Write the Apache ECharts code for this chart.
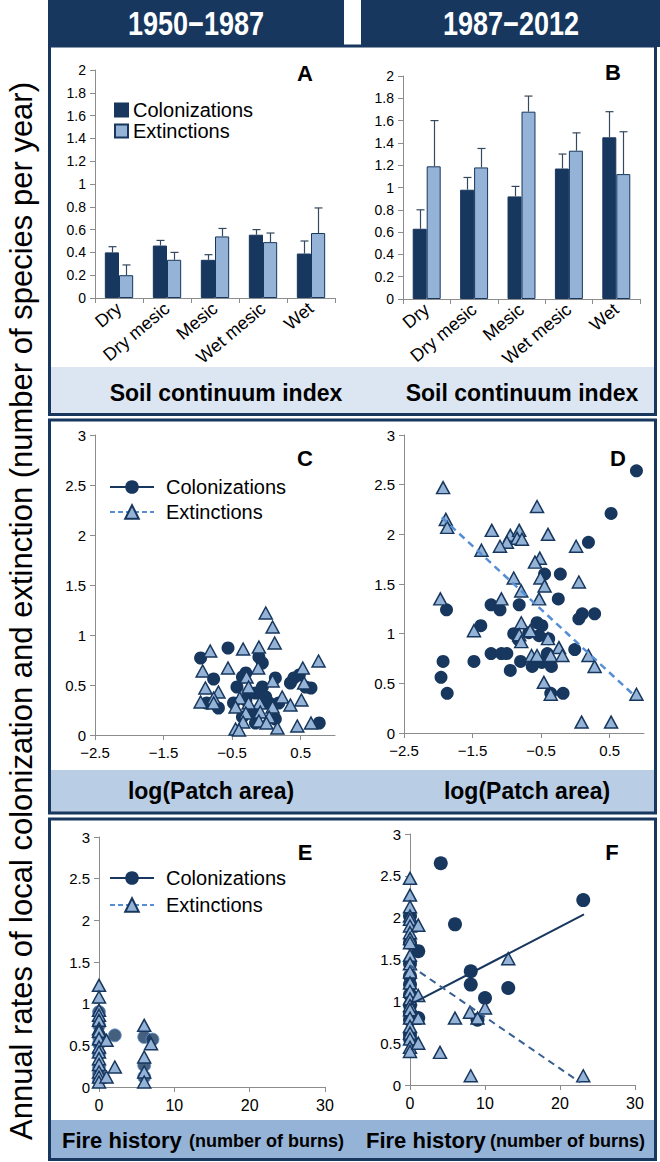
<!DOCTYPE html>
<html><head><meta charset="utf-8">
<script src="https://cdn.jsdelivr.net/npm/echarts@6/dist/echarts.min.js"></script>
<style>html,body{margin:0;padding:0;background:#fff}#c{width:660px;height:1162px}</style>
</head><body><div id="c"></div>
<script>
// ---------- DATA ----------
const periodLabels = ['1950\u22121987', '1987\u22122012'];
const soilCategories = ['Dry', 'Dry mesic', 'Mesic', 'Wet mesic', 'Wet'];
// Panel A (1950-1987)
const colA = [0.40, 0.46, 0.335, 0.555, 0.39];
const colAErr = [0.05, 0.045, 0.045, 0.045, 0.11];
const extA = [0.20, 0.335, 0.54, 0.49, 0.57];
const extAErr = [0.09, 0.065, 0.07, 0.08, 0.22];
// Panel B (1987-2012)
const colB = [0.63, 0.98, 0.92, 1.17, 1.45];
const colBErr = [0.17, 0.11, 0.09, 0.13, 0.23];
const extB = [1.19, 1.18, 1.68, 1.33, 1.12];
const extBErr = [0.41, 0.17, 0.14, 0.16, 0.38];
// Panel C: [log(patch area), rate]
const colC = [[-0.56,0.87],[-0.96,0.77],[-0.77,0.56],[-0.30,0.62],[-0.11,0.78],[-0.06,0.72],[0.13,0.57],[0.35,0.52],[0.48,0.60],[0.65,0.47],[0.57,0.48],[-0.43,0.48],[-0.16,0.42],[-0.06,0.48],[-0.70,0.27],[-0.87,0.32],[-0.48,0.32],[0.04,0.32],[0.18,0.32],[-0.21,0.22],[-0.35,0.18],[0.13,0.16],[0.77,0.12],[-0.16,0.12],[-0.35,0.58],[-0.26,0.42],[0.40,0.57],[-0.30,0.35],[-0.01,0.38]];
const extC = [[-0.01,1.22],[0.09,1.08],[0.12,0.92],[-0.11,0.88],[-0.34,0.86],[-0.82,0.84],[0.76,0.74],[0.53,0.67],[-0.12,0.67],[-0.56,0.67],[-0.93,0.64],[-0.29,0.58],[0.09,0.54],[0.55,0.52],[-0.26,0.48],[-0.89,0.47],[-0.70,0.43],[0.23,0.38],[-0.39,0.37],[-0.77,0.37],[-0.96,0.33],[0.51,0.35],[0.35,0.30],[-0.10,0.32],[-0.26,0.32],[0.09,0.28],[-0.45,0.28],[-0.30,0.22],[-0.09,0.23],[0.04,0.18],[-0.11,0.14],[0.00,0.12],[-0.34,0.13],[0.16,0.07],[0.45,0.09],[0.65,0.12],[-0.45,0.06],[-0.40,0.05],[-0.77,0.32]];
// Panel D
const colD = [[0.89,2.64],[0.52,2.21],[0.19,1.92],[-0.45,1.60],[-0.22,1.60],[-0.25,1.35],[-1.88,1.24],[-1.23,1.29],[-1.10,1.24],[-0.82,1.29],[0.05,1.15],[0.10,1.20],[0.28,1.20],[-1.38,1.08],[-0.56,1.11],[-0.49,1.08],[-0.53,0.98],[-0.68,1.01],[-0.90,1.00],[-0.39,0.95],[-0.83,0.94],[-1.23,0.80],[-1.08,0.80],[-1.00,0.80],[-0.01,0.84],[-0.41,0.80],[-1.93,0.72],[-1.48,0.72],[-0.80,0.72],[-0.95,0.63],[-0.63,0.67],[-0.49,0.71],[-0.35,0.67],[-1.96,0.56],[-1.87,0.40],[-0.18,0.40],[-0.36,0.40]];
const extD = [[-1.93,2.47],[-1.89,2.15],[-1.87,2.07],[-1.97,1.35],[-0.56,2.28],[-1.22,2.04],[-0.95,1.99],[-0.82,2.04],[-0.85,1.96],[-0.78,1.95],[-1.00,1.92],[-1.10,1.88],[-0.40,2.00],[0.01,1.88],[-1.37,1.84],[-0.52,1.76],[-0.59,1.72],[-0.51,1.56],[-0.45,1.48],[-0.90,1.56],[0.05,1.52],[-0.79,1.43],[-0.53,1.35],[-1.08,1.35],[-0.79,1.11],[-0.66,1.03],[-1.48,1.03],[-0.82,0.99],[-0.79,0.92],[-0.40,0.95],[-0.24,0.86],[-0.64,0.78],[-0.56,0.78],[-0.36,0.78],[-0.19,0.78],[0.19,0.78],[0.28,0.67],[-0.46,0.51],[-0.36,0.39],[0.89,0.39],[0.09,0.11],[0.52,0.11]];
const extDFit = [[-1.95,2.17],[0.87,0.37]];
// Panel E: [number of burns, rate]
const colE = [[0,0.90],[0,0.74],[0,0.60],[0,0.52],[0,0.40],[0,0.24],[0,0.16],[0,0.08],[2.1,0.62],[6,0.60],[7.1,0.57],[6,0.26],[6,0.12]];
const extE = [[0,1.22],[0,1.08],[0,0.92],[0,0.86],[0,0.80],[0,0.70],[0,0.67],[0,0.58],[0,0.48],[0,0.42],[0,0.34],[0,0.27],[0,0.18],[0,0.12],[0,0.06],[1.0,0.56],[2.1,0.24],[1.0,0.12],[6,0.74],[6.9,0.52],[6,0.36],[6,0.18],[6,0.06]];
// Panel F
const colF = [[4.1,2.65],[6,1.92],[23.1,2.21],[1.1,1.60],[8.1,1.36],[8.1,1.20],[13.1,1.16],[10,1.04],[9,0.78],[1.1,0.80],[0,2.02],[0,1.70],[0,1.45],[0,1.30],[0,1.20],[0,1.08],[0,0.95],[0,0.85],[0,0.78],[0,0.60],[0,0.55]];
const extF = [[0,2.47],[0,2.27],[0,2.13],[0,2.02],[0,1.98],[0,1.90],[0,1.82],[0,1.75],[0,1.70],[0,1.55],[0,1.45],[0,1.35],[0,1.22],[0,1.12],[0,1.03],[0,0.95],[0,0.90],[0,0.80],[0,0.70],[0,0.62],[0,0.55],[0,0.45],[0,0.40],[1.1,1.91],[1.1,1.07],[1.1,0.80],[1.1,0.50],[4,0.39],[6,0.80],[8,0.87],[9,0.80],[10,0.92],[13.1,1.51],[8.1,0.11],[23.1,0.11]];
const colFFit = [[0,0.96],[23.2,2.04]];
const extFFit = [[0,1.43],[22.7,0.03]];
// Tick labels
const patchTicks = [-2.5, -1.5, -0.5, 0.5];
const burnTicks = [0, 10, 20, 30];
const panelLetters = ['A','B','C','D','E','F'];
const bandTitles = ['Soil continuum index', 'log(Patch area)', 'Fire history', '(number of burns)'];
const yTitle = 'Annual rates of local colonization and extinction (number of species per year)';
const seriesNames = ['Colonizations', 'Extinctions'];

// ---------- STYLE ----------
const FF = '"Liberation Sans", Arial, sans-serif';
const navy = '#17375e';
const light = '#95b3d7';
const grey = '#8c8c8c';
const catGap = 0.41;

function yAx(gi, max, interval, fs) {
  return { type:'value', gridIndex:gi, min:0, max:max, interval:interval,
    axisLine:{show:true, onZero:false, lineStyle:{color:grey}},
    axisTick:{show:true, length:5, lineStyle:{color:grey}},
    splitLine:{show:false},
    axisLabel:{color:'#000', fontSize:fs, fontFamily:FF, margin:9} };
}
function catAx(gi) {
  return { type:'category', gridIndex:gi, data:soilCategories,
    axisLine:{onZero:false, lineStyle:{color:grey}},
    axisTick:{show:true, length:5, alignWithLabel:false, lineStyle:{color:grey}},
    axisLabel:{rotate:40, interval:0, fontSize:18, color:'#000', fontFamily:FF, margin:8} };
}
const fmtMinus = v => (v < 0 ? '\u2212' : '') + Math.abs(v);
function xValAx(gi, min, max, ticks) {
  return { type:'value', gridIndex:gi, min:min, max:max, interval:(ticks[1]-ticks[0]),
    axisLine:{lineStyle:{color:grey}, onZero:false},
    axisTick:{show:true, length:5, lineStyle:{color:grey}, customValues:ticks},
    splitLine:{show:false},
    axisLabel:{color:'#000', fontSize:15, fontFamily:FF, margin:10, customValues:ticks, formatter:fmtMinus} };
}
function errSeries(ai, vals, errs, side) {
  return { type:'custom', xAxisIndex:ai, yAxisIndex:ai, silent:true, z:5,
    data: vals.map((v,i)=>[i, v, v+errs[i]]),
    renderItem: function(params, api) {
      const i = api.value(0);
      const p0 = api.coord([i, api.value(1)]);
      const p1 = api.coord([i, api.value(2)]);
      const band = api.size([1,0])[0];
      const bw = band*(1-catGap)/2;
      const x = Math.round(p0[0] + side*bw/2) + 0.5;
      const cap = 4;
      const st = {stroke:'#34495e', lineWidth:1.2};
      return {type:'group', children:[
        {type:'line', shape:{x1:x, y1:p0[1], x2:x, y2:p1[1]}, style:st},
        {type:'line', shape:{x1:x-cap, y1:p1[1], x2:x+cap, y2:p1[1]}, style:st}
      ]};
    } };
}
function bar(ai, name, vals, color) {
  return { type:'bar', name:name, xAxisIndex:ai, yAxisIndex:ai, data:vals,
    barGap:'0%', barCategoryGap:(catGap*100)+'%',
    itemStyle:{color:color, borderColor:navy, borderWidth:1} };
}
function circles(ai, name, data, extra) {
  return Object.assign({ type:'scatter', name:name, xAxisIndex:ai, yAxisIndex:ai, data:data,
    symbol:'circle', symbolSize:13, z:3,
    itemStyle:{color:navy, opacity:1} }, extra||{});
}
function triangles(ai, name, data) {
  return { type:'scatter', name:name, xAxisIndex:ai, yAxisIndex:ai, data:data,
    symbol:'triangle', symbolSize:[13,12], z:4,
    itemStyle:{color:light, borderColor:navy, borderWidth:1.5, opacity:1} };
}
function fitLine(ai, name, data, color, type, w) {
  return { type:'line', name:name, xAxisIndex:ai, yAxisIndex:ai, data:data, symbol:'none', z:6,
    silent:true, lineStyle:{color:color, type:type, width:w} };
}
function legendDummy(ai, name, kind) {
  if (kind === 'col') return { type:'line', name:name, xAxisIndex:ai, yAxisIndex:ai, data:[],
    symbol:'circle', lineStyle:{color:navy, width:2}, itemStyle:{color:navy} };
  return { type:'line', name:name, xAxisIndex:ai, yAxisIndex:ai, data:[],
    symbol:'triangle', lineStyle:{color:'#558ed5', width:2, type:[5,3]},
    itemStyle:{color:light, borderColor:navy, borderWidth:1.5} };
}

const grids = [
  {left:95, top:70, width:240, height:228},
  {left:403, top:76, width:237, height:223},
  {left:95, top:435, width:240, height:300},
  {left:404, top:435, width:240, height:298},
  {left:99, top:837, width:226, height:250},
  {left:410, top:834, width:225, height:251}
];

const xAxes = [catAx(0), catAx(1),
  xValAx(2, -2.5, 1, patchTicks), xValAx(3, -2.5, 1, patchTicks),
  xValAx(4, 0, 30, burnTicks), xValAx(5, 0, 30, burnTicks)];
xAxes[4].axisLabel.fontSize = 16; xAxes[5].axisLabel.fontSize = 16;
const yAxes = [yAx(0, 2, 0.2, 14), yAx(1, 2, 0.2, 14), yAx(2, 3, 0.5, 15), yAx(3, 3, 0.5, 15), yAx(4, 3, 0.5, 15), yAx(5, 3, 0.5, 15)];

const C2 = seriesNames[0] + ' ', E2 = seriesNames[1] + ' ';
const C3 = seriesNames[0] + '  ', E3 = seriesNames[1] + '  ';

const series = [
  bar(0, seriesNames[0], colA, navy), bar(0, seriesNames[1], extA, light),
  errSeries(0, colA, colAErr, -1), errSeries(0, extA, extAErr, 1),
  bar(1, 'colB', colB, navy), bar(1, 'extB', extB, light),
  errSeries(1, colB, colBErr, -1), errSeries(1, extB, extBErr, 1),
  legendDummy(2, C2, 'col'), legendDummy(2, E2, 'ext'),
  circles(2, 'colC', colC), triangles(2, 'extC', extC),
  circles(3, 'colD', colD), triangles(3, 'extD', extD),
  fitLine(3, 'extDFit', extDFit, '#558ed5', [7,5], 2.5),
  legendDummy(4, C3, 'col'), legendDummy(4, E3, 'ext'),
  circles(4, 'colE', colE, {itemStyle:{color:navy, borderColor:'#6a9bd1', borderWidth:1}}), triangles(4, 'extE', extE),
  circles(5, 'colF', colF, {symbolSize:14}), triangles(5, 'extF', extF),
  fitLine(5, 'colFFit', colFFit, navy, 'solid', 2),
  fitLine(5, 'extFFit', extFFit, '#376092', [7,5], 2)
];

const legTxt = {fontSize:20, color:'#000', fontFamily:FF};
const legends = [
  {data:[seriesNames[0], seriesNames[1]], orient:'vertical', left:114, top:100, padding:0,
   itemWidth:13, itemHeight:13, itemGap:1, icon:'rect', selectedMode:false, textStyle:legTxt},
  {data:[C2, E2], orient:'vertical', left:109, top:477, padding:0, itemWidth:44, itemHeight:17, itemGap:5,
   selectedMode:false, formatter:n=>n.trim(), textStyle:Object.assign({padding:[0,0,0,7]}, legTxt)},
  {data:[C3, E3], orient:'vertical', left:109, top:868, padding:0, itemWidth:44, itemHeight:17, itemGap:7,
   selectedMode:false, formatter:n=>n.trim(), textStyle:Object.assign({padding:[0,0,0,7]}, legTxt)}
];

// ---------- FRAME / DECORATION ----------
function txt(x, y, text, size, opts) {
  return Object.assign({type:'text', x:x, y:y, silent:true, z:10,
    style:Object.assign({text:text, x:0, y:0, fill:'#000', font:'bold '+size+'px '+FF, align:'center', verticalAlign:'middle'}, (opts&&opts.style)||{})},
    opts ? (({style, ...rest}) => rest)(opts) : {});
}
const graphics = [
  {type:'rect', shape:{x:48, y:0, width:296, height:47}, style:{fill:navy}, z:-5, silent:true},
  {type:'rect', shape:{x:361, y:0, width:299, height:47}, style:{fill:navy}, z:-5, silent:true},
  {type:'rect', shape:{x:51, y:367, width:603, height:47}, style:{fill:'#dce6f2'}, z:-5, silent:true},
  {type:'rect', shape:{x:51, y:770, width:603, height:42}, style:{fill:'#b9cde5'}, z:-5, silent:true},
  {type:'rect', shape:{x:51, y:1120, width:603, height:39}, style:{fill:'#95b3d7'}, z:-5, silent:true},
  {type:'rect', shape:{x:49.5, y:46, width:606, height:368.5}, style:{fill:'none', stroke:navy, lineWidth:3}, z:-4, silent:true},
  {type:'rect', shape:{x:49.5, y:420, width:606, height:393}, style:{fill:'none', stroke:navy, lineWidth:3}, z:-4, silent:true},
  {type:'rect', shape:{x:49.5, y:819, width:606, height:340.5}, style:{fill:'none', stroke:navy, lineWidth:3}, z:-4, silent:true},
  txt(196, 24, periodLabels[0], 33, {scaleX:0.82, style:{fill:'#fff'}}),
  txt(511, 24, periodLabels[1], 33, {scaleX:0.82, style:{fill:'#fff'}}),
  txt(305, 73, panelLetters[0], 22), txt(613, 72, panelLetters[1], 22),
  txt(305, 458, panelLetters[2], 22), txt(618, 458, panelLetters[3], 22),
  txt(305, 852, panelLetters[4], 22), txt(612, 852, panelLetters[5], 22),
  txt(226, 393, bandTitles[0], 23), txt(522, 393, bandTitles[0], 23),
  txt(211, 791, bandTitles[1], 23), txt(527, 791, bandTitles[1], 23),
  txt(62, 1140, bandTitles[2], 22, {style:{align:'left'}}),
  txt(189, 1141, bandTitles[3], 18, {style:{align:'left'}}),
  txt(366, 1140, bandTitles[2], 22, {style:{align:'left'}}),
  txt(490, 1141, bandTitles[3], 18, {style:{align:'left'}}),
  {type:'text', x:21, y:611, rotation:Math.PI/2, silent:true, z:10,
   style:{text:yTitle, x:0, y:0, fill:'#000', font:'31px '+FF, align:'center', verticalAlign:'middle'}}
];

const chart = echarts.init(document.getElementById('c'), null, {renderer:'svg'});
chart.setOption({
  animation:false,
  backgroundColor:'#fff',
  grid:grids, xAxis:xAxes, yAxis:yAxes, series:series, legend:legends,
  graphic:{elements:graphics}
});
</script>
</body></html>
